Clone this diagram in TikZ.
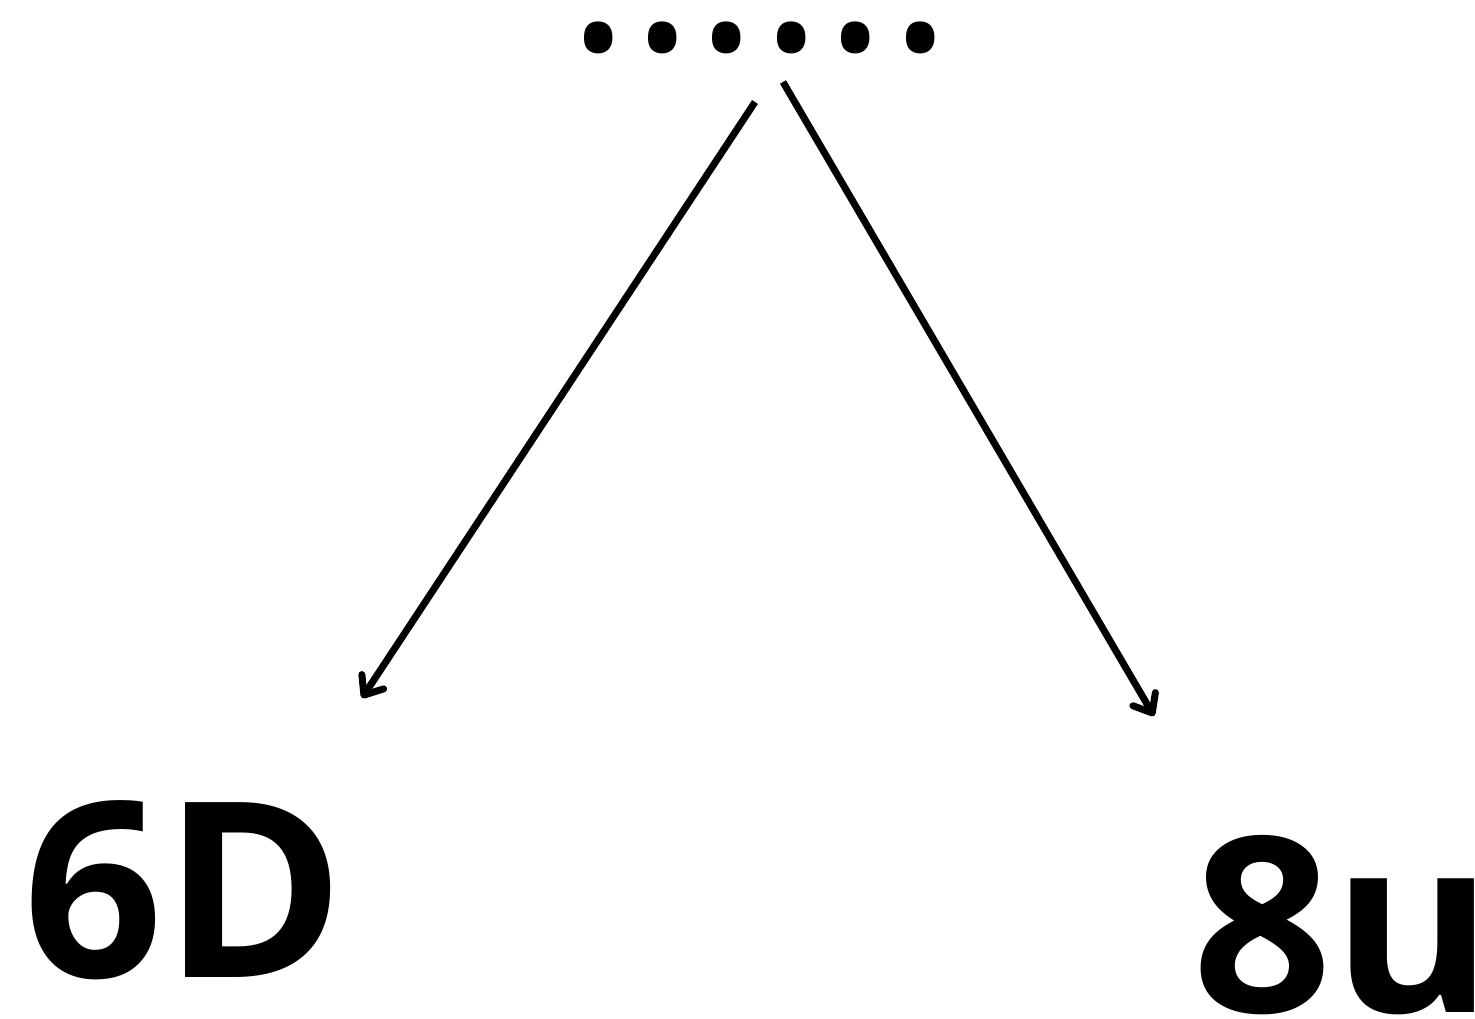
\documentclass[tikz,border=0pt]{standalone}
\usepackage{fontspec}
\setmainfont{Open Sans}
\usetikzlibrary{arrows.meta}
\begin{document}
\begin{tikzpicture}[x=1pt,y=-1pt,
  lbl/.style={inner sep=0pt, anchor=base west, font=\fontsize{245}{245}\selectfont\bfseries},
  dotlbl/.style={inner sep=0pt, anchor=base west, font=\fontsize{242}{242}\selectfont},
  conn/.style={line width=7pt, -{Straight Barb[length=16pt,width=26pt,line cap=round,line join=round]}}]
\useasboundingbox (0,0) rectangle (1475,1019);
\clip (0,0) rectangle (1475,1019);
\node[dotlbl] (dots) at (566,51) {......};
\node[lbl] (sixd) at (23,977) {6D};
\node[lbl] (eightu) at (1192,1012) {8u};
\coordinate (s1) at (755,102);
\coordinate (e1) at (362,698);
\coordinate (s2) at (783,82);
\coordinate (e2) at (1154,716);
\draw[conn] (s1) -- (e1);
\draw[conn] (s2) -- (e2);
\end{tikzpicture}
\end{document}
